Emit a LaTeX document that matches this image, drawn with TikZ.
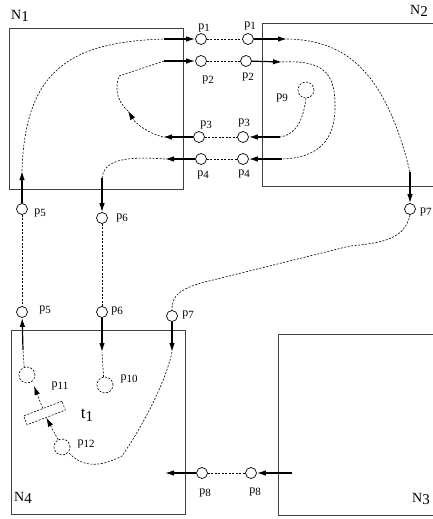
\documentclass[tikz,border=0pt]{standalone}
\usepackage{fontspec}
\setmainfont{Liberation Serif}
\usetikzlibrary{arrows.meta,calc}
\newcommand{\plab}[1]{p\raisebox{-0.4ex}{\fontsize{11}{11}\selectfont #1}}
\newcommand{\Nlab}[2]{#1\raisebox{-0.35ex}{\fontsize{15}{15}\selectfont #2}}
\begin{document}
\begin{tikzpicture}[x=1pt,y=-1pt,
 box/.style={draw=black!75, line width=0.9pt, rectangle, inner sep=0pt, anchor=north west},
 place/.style={circle, draw, line width=0.7pt, minimum size=11pt, inner sep=0pt, fill=white},
 iplace/.style={circle, draw, line width=0.6pt, dash pattern=on 2pt off 1.5pt, minimum size=16pt, inner sep=0pt},
 arr/.style={line width=1.2pt, -{Latex[length=9pt,width=5.5pt]}},
 dsh/.style={line width=0.6pt, dash pattern=on 2pt off 1.5pt},
 darr/.style={dsh, -{Latex[length=9pt,width=5.5pt]}},
 lab/.style={font=\fontsize{12}{12}\selectfont, inner sep=0pt},
 big/.style={font=\fontsize{14}{14}\selectfont, inner sep=0pt},
 tbig/.style={font=\fontsize{17}{17}\selectfont, inner sep=0pt}]
\useasboundingbox (0,0) rectangle (433,519);
% boxes
\node[box, minimum width=174pt, minimum height=161pt] (N1) at (9,28) {};
\node[box, minimum width=183pt, minimum height=163pt] (N2) at (262,23) {};
\node[box, minimum width=167pt, minimum height=181pt] (N3) at (278,334) {};
\node[box, minimum width=174pt, minimum height=184pt] (N4) at (11,330) {};
\node[big, anchor=west] (N1l) at (11,16) {\Nlab{N}{1}};
\node[big, anchor=west] (N2l) at (410,11) {\Nlab{N}{2}};
\node[big, anchor=west] (N3l) at (412,499) {\Nlab{N}{3}};
\node[big, anchor=west] (N4l) at (14,498) {\Nlab{N}{4}};
% places
\node[place] (p1a) at (201,39) {};
\node[place] (p1b) at (248,39) {};
\node[place] (p2a) at (201,61) {};
\node[place] (p2b) at (246,61) {};
\node[place] (p3a) at (199,137) {};
\node[place] (p3b) at (243,137) {};
\node[place] (p4a) at (201,159) {};
\node[place] (p4b) at (243,159) {};
\node[place] (p5a) at (22,209) {};
\node[place] (p5b) at (22,312) {};
\node[place] (p6a) at (102,218) {};
\node[place] (p6b) at (102,312) {};
\node[place] (p7a) at (410,209) {};
\node[place] (p7b) at (172,316) {};
\node[place] (p8a) at (202,473) {};
\node[place] (p8b) at (251,473) {};
\node[iplace] (p9) at (306,90) {};
\node[iplace] (p10) at (105,385) {};
\node[iplace] (p11) at (27,375) {};
\node[iplace] (p12) at (62,447) {};
\node[draw, line width=0.6pt, dash pattern=on 2pt off 1.5pt, rectangle, minimum width=41pt, minimum height=9.5pt, inner sep=0pt, rotate=21] (t1) at (44.5,413) {};
% labels
\node[lab] at (204,28) {\plab{1}};
\node[lab] at (250,26) {\plab{1}};
\node[lab] at (208,80) {\plab{2}};
\node[lab] at (248,77) {\plab{2}};
\node[lab] at (206,125) {\plab{3}};
\node[lab] at (244,123) {\plab{3}};
\node[lab] at (203,175) {\plab{4}};
\node[lab] at (244,174) {\plab{4}};
\node[lab] at (282,98) {\plab{9}};
\node[lab] at (40,213) {\plab{5}};
\node[lab] at (122,218) {\plab{6}};
\node[lab] at (45,310) {\plab{5}};
\node[lab] at (117,311) {\plab{6}};
\node[lab] at (188,315) {\plab{7}};
\node[lab, anchor=west] at (420,212) {\plab{7}};
\node[lab] at (60,386) {\plab{11}};
\node[lab] at (129,379) {\plab{10}};
\node[lab] at (86,444) {\plab{12}};
\node[lab] at (205,493) {\plab{8}};
\node[lab] at (255,492) {\plab{8}};
\node[tbig] (t1l) at (87,415) {\Nlab{t}{1}};
% coordinates
\coordinate (c1a) at (164,39);
\coordinate (c1b) at (287,39);
\coordinate (c2a) at (164,61);
\coordinate (c2b) at (282,62);
\coordinate (c3a) at (163,137);
\coordinate (c3b) at (280,137);
\coordinate (c4a) at (165,159);
\coordinate (c4b) at (282,159);
\coordinate (c5a) at (22,171);
\coordinate (c5b) at (23,350);
\coordinate (c6a) at (102,178);
\coordinate (c6b) at (102,352);
\coordinate (c7a) at (410,172);
\coordinate (c7b) at (172,352);
\coordinate (c8a) at (165,473);
\coordinate (c8b) at (292,473);
\coordinate (m2) at (128,111);
\coordinate (k2) at (119,76);
\coordinate (k5) at (335,105);
\coordinate (k7) at (350,246);
\coordinate (k8) at (213,280);
\coordinate (k9) at (122,456);
\coordinate (a11) at (34,386);
% solid arrows
\draw[arr] (c1a) -- (p1a);
\draw[arr] (p1b) -- (c1b);
\draw[arr] (c2a) -- (p2a);
\draw[arr] (p2b) -- (c2b);
\draw[arr] (p3a) -- (c3a);
\draw[arr] (c3b) -- (p3b);
\draw[arr] (p4a) -- (c4a);
\draw[arr] (c4b) -- (p4b);
\draw[arr] (p5a) -- (c5a);
\draw[arr] (c5b) -- (p5b);
\draw[arr] (c6a) -- (p6a);
\draw[arr] (p6b) -- (c6b);
\draw[arr] (c7a) -- (p7a);
\draw[arr] (p7b) -- (c7b);
\draw[arr] (c8b) -- (p8b);
\draw[arr] (p8a) -- (c8a);
% dashed links between places
\draw[dsh] (p1a) -- (p1b);
\draw[dsh] (p2a) -- (p2b);
\draw[dsh] (p3a) -- (p3b);
\draw[dsh] (p4a) -- (p4b);
\draw[dsh] (p5a) -- (p5b);
\draw[dsh] (p6a) -- (p6b);
\draw[dsh] (p8a) -- (p8b);
\draw[dsh] (p7a.south) .. controls (405,240) and (380,243) .. (k7) -- (k8) .. controls (178,288) and (172,296) .. (p7b.north);
% N1 internal
\draw[dsh] (c5a) .. controls (25,70) and (70,42) .. (c1a);
\draw[darr] (c3a) .. controls (148,133) and (136,124) .. (m2);
\draw[dsh] (m2) .. controls (116,100) and (115,88) .. (k2) -- (c2a);
\draw[dsh] (c4a) .. controls (125,156) and (104,160) .. (c6a);
% N2 internal
\draw[dsh] (c1b) .. controls (345,40) and (385,70) .. (c7a);
\draw[dsh] (c2b) .. controls (322,60) and (335,72) .. (k5) .. controls (336,140) and (318,158) .. (c4b);
\draw[dsh] (p9.south) .. controls (304,112) and (300,134) .. (c3b);
% N4 internal
\draw[dsh] (p11.110) -- (c5b);
\draw[dsh] (p10.100) -- (c6b);
\draw[darr] (t1.north) -- (a11);
\draw[darr] (p12) -- (t1.south);
\draw[dsh] (c7b) .. controls (165,385) and (140,430) .. (k9) .. controls (108,463) and (86,472) .. (p12.-40);
\end{tikzpicture}
\end{document}
